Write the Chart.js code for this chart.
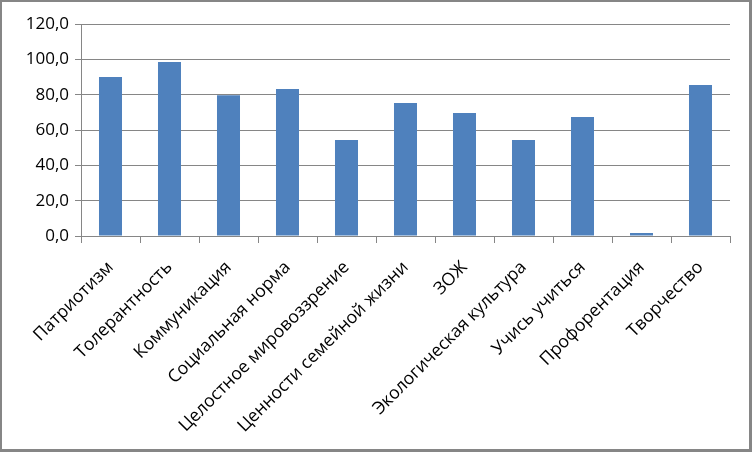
<!DOCTYPE html>
<html><head><meta charset="utf-8">
<script src="https://cdn.jsdelivr.net/npm/chart.js@4/dist/chart.umd.min.js"></script>
<style>
html,body{margin:0;padding:0;background:#fff;}
#wrap{width:747px;height:447px;border:2px solid #868686;border-right-width:3px;border-bottom-width:3px;position:relative;}
canvas{display:block;}
</style></head><body>
<div id="wrap"><canvas id="c" width="747" height="447"></canvas></div>
<script>
const categories = ["Патриотизм","Толерантность","Коммуникация","Социальная норма","Целостное мировоззрение","Ценности семейной жизни","ЗОЖ","Экологическая культура","Учись учиться","Профорентация","Творчество"];
const values = [90.0, 98.5, 79.6, 83.2, 54.3, 75.3, 69.6, 54.3, 67.3, 1.7, 85.5];
const yTicks = {min:0, max:120, step:20};

const FONT = "'Open Sans', sans-serif";
new Chart(document.getElementById('c'), {
  type:'bar',
  data:{labels:categories, datasets:[{data:values, backgroundColor:'#4F81BD', borderWidth:0, barPercentage:0.39, categoryPercentage:1}]},
  options:{
    responsive:false, animation:false, devicePixelRatio:1,
    layout:{padding:{top:22,right:19,left:0,bottom:0}},
    plugins:{legend:{display:false}, tooltip:{enabled:false}},
    scales:{
      x:{
        grid:{display:true, offset:true, drawOnChartArea:false, drawTicks:true, tickLength:7, color:'#868686', lineWidth:1},
        border:{display:true, color:'#868686', width:1},
        ticks:{minRotation:45, maxRotation:45, autoSkip:false, color:'#000', font:{family:FONT, size:17.6}, padding:14},
        afterFit:(s)=>{s.height=213;}
      },
      y:{
        min:yTicks.min, max:yTicks.max,
        grid:{color:'#868686', lineWidth:1, tickLength:6},
        border:{display:true, color:'#868686', width:1},
        ticks:{stepSize:yTicks.step, color:'#000', font:{family:FONT, size:17}, padding:6,
          callback:(v)=>v.toFixed(1).replace('.',',')},
        afterFit:(s)=>{s.width=79;}
      }
    }
  }
});
</script></body></html>
